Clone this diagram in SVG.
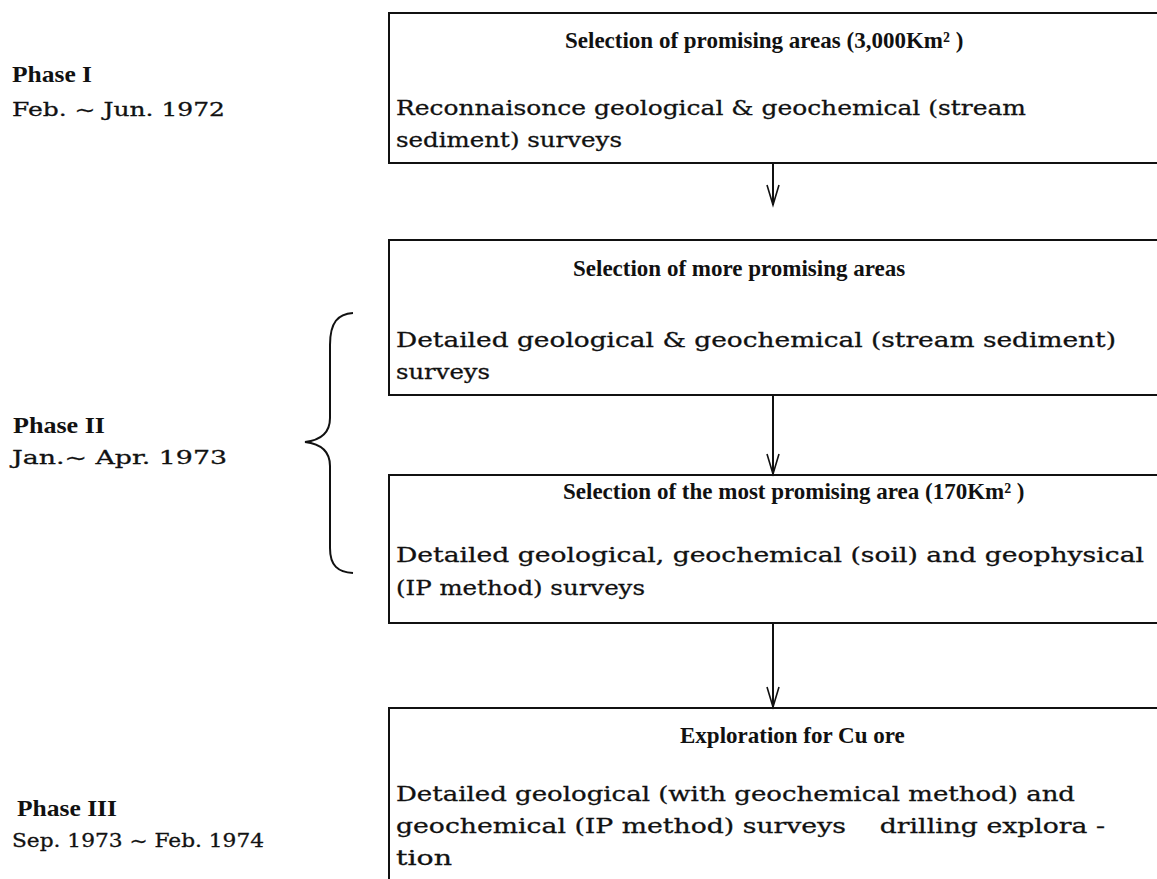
<svg xmlns="http://www.w3.org/2000/svg" width="1157" height="879" viewBox="0 0 1157 879">
<style>
.box{fill:none;stroke:#111;stroke-width:2}
.title{font-family:"Liberation Serif",serif;font-weight:bold;font-size:23px;fill:#111}
.body{font-family:"DejaVu Serif",serif;font-size:20px;fill:#111;stroke:#111;stroke-width:0.3}
.lbl{font-family:"Liberation Serif",serif;font-weight:bold;font-size:24px;fill:#111}
.date{font-family:"DejaVu Serif",serif;font-size:19px;fill:#111;stroke:#111;stroke-width:0.3}
.conn{fill:none;stroke:#111;stroke-width:2}
</style>
<defs>
<marker id="v" markerUnits="userSpaceOnUse" markerWidth="24" markerHeight="16" refX="21" refY="7" orient="auto" viewBox="0 0 24 14">
<path d="M1,1 L21,7 L1,13" fill="none" stroke="#111" stroke-width="1.6"/>
</marker>
</defs>
<rect width="1157" height="879" fill="#fff"/>
<g id="phase1">
<text class="lbl" x="12" y="82" textLength="80" lengthAdjust="spacingAndGlyphs">Phase I</text>
<text class="date" x="12" y="116" textLength="213" lengthAdjust="spacingAndGlyphs">Feb. ~ Jun. 1972</text>
</g>
<g id="phase2">
<text class="lbl" x="13" y="433" textLength="92" lengthAdjust="spacingAndGlyphs">Phase II</text>
<text class="date" x="12" y="464" textLength="215" lengthAdjust="spacingAndGlyphs">Jan.~ Apr. 1973</text>
<path class="conn" d="M353,313 C338,314 330,322 330,345 L330,418 C330,432 322,440 305,442 C322,444 330,452 330,466 L330,548 C330,566 338,572 353,573"/>
</g>
<g id="phase3">
<text class="lbl" x="17" y="816" textLength="100" lengthAdjust="spacingAndGlyphs">Phase III</text>
<text class="date" x="12" y="847" textLength="252" lengthAdjust="spacingAndGlyphs">Sep. 1973 ~ Feb. 1974</text>
</g>
<g id="box1">
<rect class="box" x="389" y="13" width="790" height="150"/>
<text class="title" x="565" y="48">Selection of promising areas (3,000Km² )</text>
<text class="body" x="396" y="115" textLength="630" lengthAdjust="spacingAndGlyphs">Reconnaisonce geological &amp; geochemical (stream</text>
<text class="body" x="396" y="147" textLength="226" lengthAdjust="spacingAndGlyphs">sediment) surveys</text>
</g>
<g id="box2">
<rect class="box" x="389" y="240" width="790" height="155"/>
<text class="title" x="573" y="276">Selection of more promising areas</text>
<text class="body" x="396" y="347" textLength="720" lengthAdjust="spacingAndGlyphs">Detailed geological &amp; geochemical (stream sediment)</text>
<text class="body" x="396" y="379" textLength="94" lengthAdjust="spacingAndGlyphs">surveys</text>
</g>
<g id="box3">
<rect class="box" x="389" y="475" width="790" height="148"/>
<text class="title" x="563" y="499">Selection of the most promising area (170Km² )</text>
<text class="body" x="396" y="562" textLength="748" lengthAdjust="spacingAndGlyphs">Detailed geological, geochemical (soil) and geophysical</text>
<text class="body" x="396" y="595" textLength="249" lengthAdjust="spacingAndGlyphs">(IP method) surveys</text>
</g>
<g id="box4">
<rect class="box" x="389" y="708" width="790" height="200"/>
<text class="title" x="680" y="743">Exploration for Cu ore</text>
<text class="body" x="396" y="801" textLength="679" lengthAdjust="spacingAndGlyphs">Detailed geological (with geochemical method) and</text>
<text class="body" x="396" y="833" xml:space="preserve" textLength="709" lengthAdjust="spacingAndGlyphs">geochemical (IP method) surveys    drilling explora -</text>
<text class="body" x="396" y="865" textLength="56" lengthAdjust="spacingAndGlyphs">tion</text>
</g>
<g id="connectors">
<line class="conn" x1="773" y1="163" x2="773" y2="205" marker-end="url(#v)"/>
<line class="conn" x1="773" y1="395" x2="773" y2="474" marker-end="url(#v)"/>
<line class="conn" x1="773" y1="623" x2="773" y2="707" marker-end="url(#v)"/>
</g>
</svg>
